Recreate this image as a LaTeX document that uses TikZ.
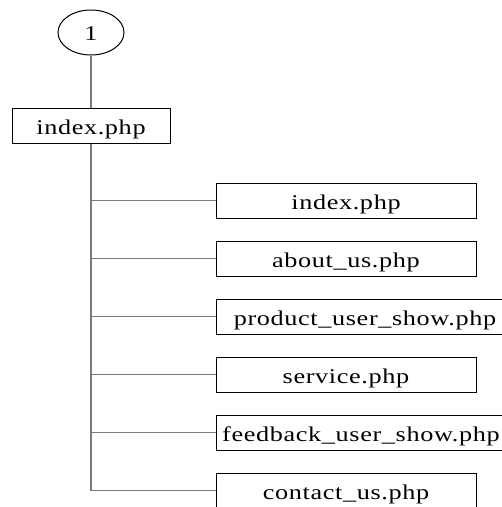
\documentclass[tikz,border=0pt]{standalone}
\usepackage{fontspec}
\setmainfont{Liberation Serif}[FakeStretch=1.25, LetterSpace=3]
\usetikzlibrary{shapes.geometric}
\definecolor{linkgray}{HTML}{7A7A7A}
\begin{document}
\begin{tikzpicture}[x=1pt,y=-1pt,
  labelfont/.style={font=\fontsize{21}{25}\selectfont},
  pagebox/.style={draw=black, line width=1pt, inner sep=0pt, labelfont,
    text height=26pt, text depth=9pt},
  startnode/.style={ellipse, draw=black, line width=1pt, inner sep=0pt, labelfont,
    minimum width=66pt, minimum height=45pt, text height=16.4pt, text depth=0pt},
  link/.style={draw=linkgray, line width=1.6pt}]
\useasboundingbox (0,0) rectangle (502,507);
\clip (0,0) rectangle (502,507);
\node[startnode] (start) at (91,32.5) {1};
\node[pagebox, minimum width=158pt] (main) at (91,125.5) {index.php};
\node[pagebox, minimum width=260pt] (p1) at (346,200.5) {index.php};
\node[pagebox, minimum width=260pt] (p2) at (346,258.5) {about\_us.php};
\node[pagebox, minimum width=298pt] (p3) at (365,316.5) {product\_user\_show.php};
\node[pagebox, minimum width=260pt] (p4) at (346,374.5) {service.php};
\node[pagebox, minimum width=290pt] (p5) at (361,432.5) {feedback\_user\_show.php};
\node[pagebox, minimum width=260pt] (p6) at (346,490.5) {contact\_us.php};
\draw[link] (start.south) -- (main.north);
\draw[link] (main.south) -- (main.south |- p6.west);
\foreach \p in {p1,p2,p3,p4,p5,p6}
  \draw[link] (main.south |- \p.west) -- (\p.west);
\end{tikzpicture}
\end{document}
